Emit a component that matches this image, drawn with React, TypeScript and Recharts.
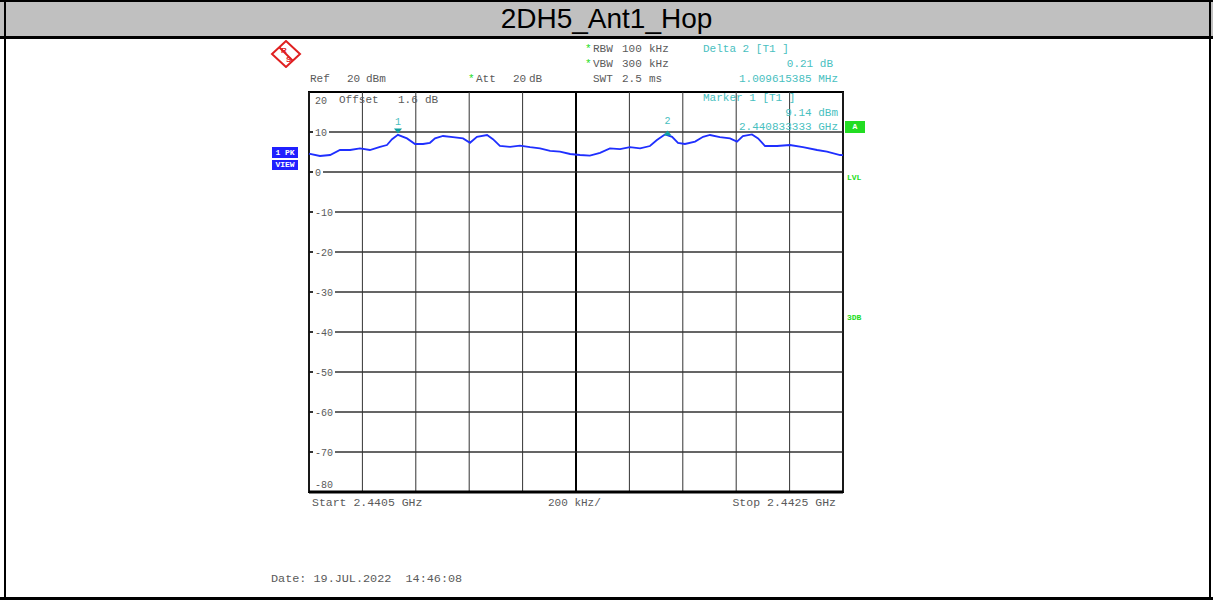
import React from 'react';
import { LineChart, Line, XAxis, YAxis, CartesianGrid, ReferenceLine, ReferenceDot, ReferenceArea } from 'recharts';

const freqMHz = [2440.5, 2440.504, 2440.541, 2440.579, 2440.616, 2440.654, 2440.691, 2440.728, 2440.766, 2440.792, 2440.811, 2440.833, 2440.867, 2440.897, 2440.927, 2440.953, 2440.972, 2441.002, 2441.039, 2441.077, 2441.103, 2441.129, 2441.167, 2441.189, 2441.215, 2441.253, 2441.29, 2441.328, 2441.365, 2441.403, 2441.44, 2441.478, 2441.515, 2441.552, 2441.59, 2441.627, 2441.665, 2441.702, 2441.74, 2441.777, 2441.803, 2441.833, 2441.86, 2441.882, 2441.908, 2441.946, 2441.976, 2442.002, 2442.039, 2442.077, 2442.103, 2442.125, 2442.159, 2442.182, 2442.208, 2442.253, 2442.301, 2442.35, 2442.403, 2442.44, 2442.489, 2442.5];
const levelDbm = [4.6, 4.5, 4.0, 4.25, 5.5, 5.5, 5.9, 5.5, 6.3, 6.75, 8.2, 9.3, 8.4, 7.0, 7.0, 7.3, 8.4, 9.0, 8.7, 8.4, 7.3, 8.8, 9.25, 8.2, 6.5, 6.3, 6.6, 6.2, 5.9, 5.3, 5.1, 4.5, 4.25, 4.1, 4.8, 5.9, 5.7, 6.2, 5.9, 6.5, 8.0, 9.4, 8.8, 7.3, 7.0, 7.6, 8.8, 9.25, 8.7, 8.4, 7.6, 9.0, 9.4, 8.4, 6.5, 6.5, 6.75, 6.2, 5.5, 5.1, 4.25, 4.2];
const yTicks = [20, 10, 0, -10, -20, -30, -40, -50, -60, -70, -80];
const xTicks = [2440.5, 2440.7, 2440.9, 2441.1, 2441.3, 2441.5, 2441.7, 2441.9, 2442.1, 2442.3, 2442.5];
const markerFreqs = [2440.833333, 2441.842949];
const markerLevels = [9.14, 9.35];
const markerNames = ['1', '2'];

const data = freqMHz.map((f, i) => ({ f, level: levelDbm[i] }));

const MONO = '"Liberation Mono", "Courier New", monospace';
const GRAY = '#5a5a5a';
const TEAL = '#48c0c0';
const GREEN = '#22dd22';
const FS = 11;

const W = 1213;
const H = 600;
const PL = 309, PR = 843, PT = 92, PB = 492;
const YW = 30;

const T = ({ x, y, c = GRAY, children, right, fs = FS }: any) => (
  <div style={{
    position: 'absolute', top: y - 7, height: 14, lineHeight: '14px',
    ...(right ? { right: W - x } : { left: x }),
    fontFamily: MONO, fontSize: fs, color: c, whiteSpace: 'pre',
  }}>{children}</div>
);

const renderYTick = (props: any) => {
  const { y, payload } = props;
  const x = PL;
  const v = payload.value;
  const label = String(v);
  const edge = v === 20 || v === -80;
  const ty = v === 20 ? y + 8 : v === -80 ? y - 8 : y;
  const w = label.length * 6;
  return (
    <g key={`yt-${v}`}>
      {!edge && <rect x={x + 4} y={y - 5} width={w + 4} height={10} fill="#fff" />}
      {!edge && <line x1={x} x2={x + 4} y1={y} y2={y} stroke="#000" strokeWidth={1} />}
      <text x={x + 6} y={ty} dy={3.5} fontSize={10} fontFamily={MONO} fill={GRAY}>{label}</text>
    </g>
  );
};

const markerShape = (idx: number) => (props: any) => {
  const { cx, cy } = props;
  const down = idx === 0;
  const pts = down
    ? `${cx - 4},${cy - 7} ${cx + 4},${cy - 7} ${cx},${cy - 2}`
    : `${cx},${cy - 4} ${cx - 4},${cy + 1} ${cx + 4},${cy + 1}`;
  return (
    <g>
      <polygon points={pts} fill="#10a0a0" />
      <text x={cx} y={cy - 14} dy={3.5} textAnchor="middle" fontSize={10} fontFamily={MONO} fill={TEAL}>{markerNames[idx]}</text>
    </g>
  );
};

export default function App() {
  return (
    <div style={{ position: 'absolute', left: 0, top: 0, width: W, height: H, background: '#fff', overflow: 'hidden' }}>
      {/* frame */}
      <div style={{ position: 'absolute', left: 0, top: 0, width: W, height: 36, background: '#c0c0c0' }} />
      <div style={{ position: 'absolute', left: 0, top: 0, width: W, height: 2, background: '#000' }} />
      <div style={{ position: 'absolute', left: 0, top: 36, width: W, height: 3, background: '#000' }} />
      <div style={{ position: 'absolute', left: 4, top: 0, width: 2, height: H, background: '#000' }} />
      <div style={{ position: 'absolute', left: W - 4, top: 0, width: 2, height: H, background: '#000' }} />
      <div style={{ position: 'absolute', left: 0, top: H - 3, width: W, height: 3, background: '#000' }} />
      <div style={{
        position: 'absolute', left: 0, top: 2, width: W, height: 34, lineHeight: '34px', textAlign: 'center',
        fontFamily: '"Liberation Sans", Arial, sans-serif', fontSize: 28, color: '#000',
      }}>2DH5_Ant1_Hop</div>

      {/* R&S logo */}
      <svg style={{ position: 'absolute', left: 270, top: 40 }} width={32} height={28}>
        <polygon points="16,1 30,14 16,27 2,14" fill="#fff" stroke="#e02020" strokeWidth={2} />
        <line x1={9} y1={7} x2={23} y2={21} stroke="#e02020" strokeWidth={2} />
        <text x={11} y={13} fontSize={8} fontFamily="Arial" fontWeight="bold" fill="#e02020">R</text>
        <text x={16} y={22} fontSize={8} fontFamily="Arial" fontWeight="bold" fill="#e02020">S</text>
      </svg>

      <div style={{ position: 'absolute', left: 0, top: 0 }}>
        <LineChart width={W} height={H} data={data} margin={{ left: PL - YW, right: W - PR, top: PT, bottom: H - PB }}>
          <CartesianGrid stroke="#333" strokeWidth={1} vertical={false} horizontalValues={yTicks} />
          <XAxis dataKey="f" type="number" domain={[2440.5, 2442.5]} ticks={xTicks} height={0} tick={false} axisLine={false} tickLine={false} />
          <YAxis type="number" domain={[-80, 20]} ticks={yTicks} width={YW} tickSize={0} tickMargin={0} axisLine={false} tickLine={false} tick={renderYTick} interval={0} />
          {xTicks.map((xt) => (
            <ReferenceLine key={xt} x={xt} stroke={xt === 2441.5 ? '#000' : '#333'} strokeWidth={xt === 2441.5 ? 2 : 1} />
          ))}
          {yTicks.filter((v) => v !== 20 && v !== -80).map((v) => (
            <ReferenceLine key={`h${v}`} y={v} stroke="#333" strokeWidth={1} />
          ))}
          <ReferenceArea x1={2440.5} x2={2442.5} y1={-80} y2={20} fill="none" stroke="#000" strokeWidth={2} />
          <ReferenceLine y={-80} stroke="#000" strokeWidth={3} />
          <Line type="linear" dataKey="level" stroke="#1f2fff" strokeWidth={1.8} dot={false} isAnimationActive={false} />
          {markerFreqs.map((mf, i) => (
            <ReferenceDot key={i} x={mf} y={markerLevels[i]} r={4} shape={markerShape(i)} />
          ))}
        </LineChart>
      </div>

      {/* instrument annotations */}
      <T x={585} y={49} c={GREEN}>*</T>
      <T x={593} y={49}>RBW</T><T x={622} y={49}>100</T><T x={649} y={49}>kHz</T>
      <T x={585} y={64} c={GREEN}>*</T>
      <T x={593} y={64}>VBW</T><T x={622} y={64}>300</T><T x={649} y={64}>kHz</T>
      <T x={593} y={79}>SWT</T><T x={622} y={79}>2.5</T><T x={649} y={79}>ms</T>
      <T x={310} y={79}>Ref</T><T x={347} y={79}>20</T><T x={366} y={79}>dBm</T>
      <T x={468} y={79} c={GREEN}>*</T>
      <T x={476} y={79}>Att</T><T x={513} y={79}>20</T><T x={529} y={79}>dB</T>

      <T x={703} y={49} c={TEAL}>Delta 2 [T1 ]</T>
      <T x={833} y={64} c={TEAL} right>0.21 dB</T>
      <T x={838} y={79} c={TEAL} right>1.009615385 MHz</T>
      <T x={703} y={98} c={TEAL}>Marker 1 [T1 ]</T>
      <T x={838} y={113} c={TEAL} right>9.14 dBm</T>
      <T x={838} y={127} c={TEAL} right>2.440833333 GHz</T>

      <T x={339} y={100}>Offset</T><T x={398} y={100}>1.6</T><T x={425} y={100}>dB</T>

      <div style={{ position: 'absolute', left: 272, top: 147, width: 26, height: 11, background: '#2020ff', color: '#fff', fontFamily: MONO, fontSize: 8, lineHeight: '11px', textAlign: 'center', fontWeight: 'bold' }}>1 PK</div>
      <div style={{ position: 'absolute', left: 272, top: 160, width: 26, height: 10, background: '#2020ff', color: '#fff', fontFamily: MONO, fontSize: 8, lineHeight: '10px', textAlign: 'center', fontWeight: 'bold' }}>VIEW</div>

      <div style={{ position: 'absolute', left: 845, top: 121, width: 20, height: 12, background: GREEN, color: '#fff', fontFamily: MONO, fontSize: 8, lineHeight: '12px', textAlign: 'center', fontWeight: 'bold' }}>A</div>
      <div style={{ position: 'absolute', left: 847, top: 173, fontFamily: MONO, fontSize: 8, color: GREEN, fontWeight: 'bold' }}>LVL</div>
      <div style={{ position: 'absolute', left: 847, top: 313, fontFamily: MONO, fontSize: 8, color: GREEN, fontWeight: 'bold' }}>3DB</div>

      <T x={312} y={503} fs={11.5}>Start 2.4405 GHz</T>
      <T x={548} y={503}>200 kHz/</T>
      <T x={836} y={503} fs={11.5} right>Stop 2.4425 GHz</T>
      <T x={271} y={579} fs={11.8}>Date: 19.JUL.2022  14:46:08</T>
    </div>
  );
}
